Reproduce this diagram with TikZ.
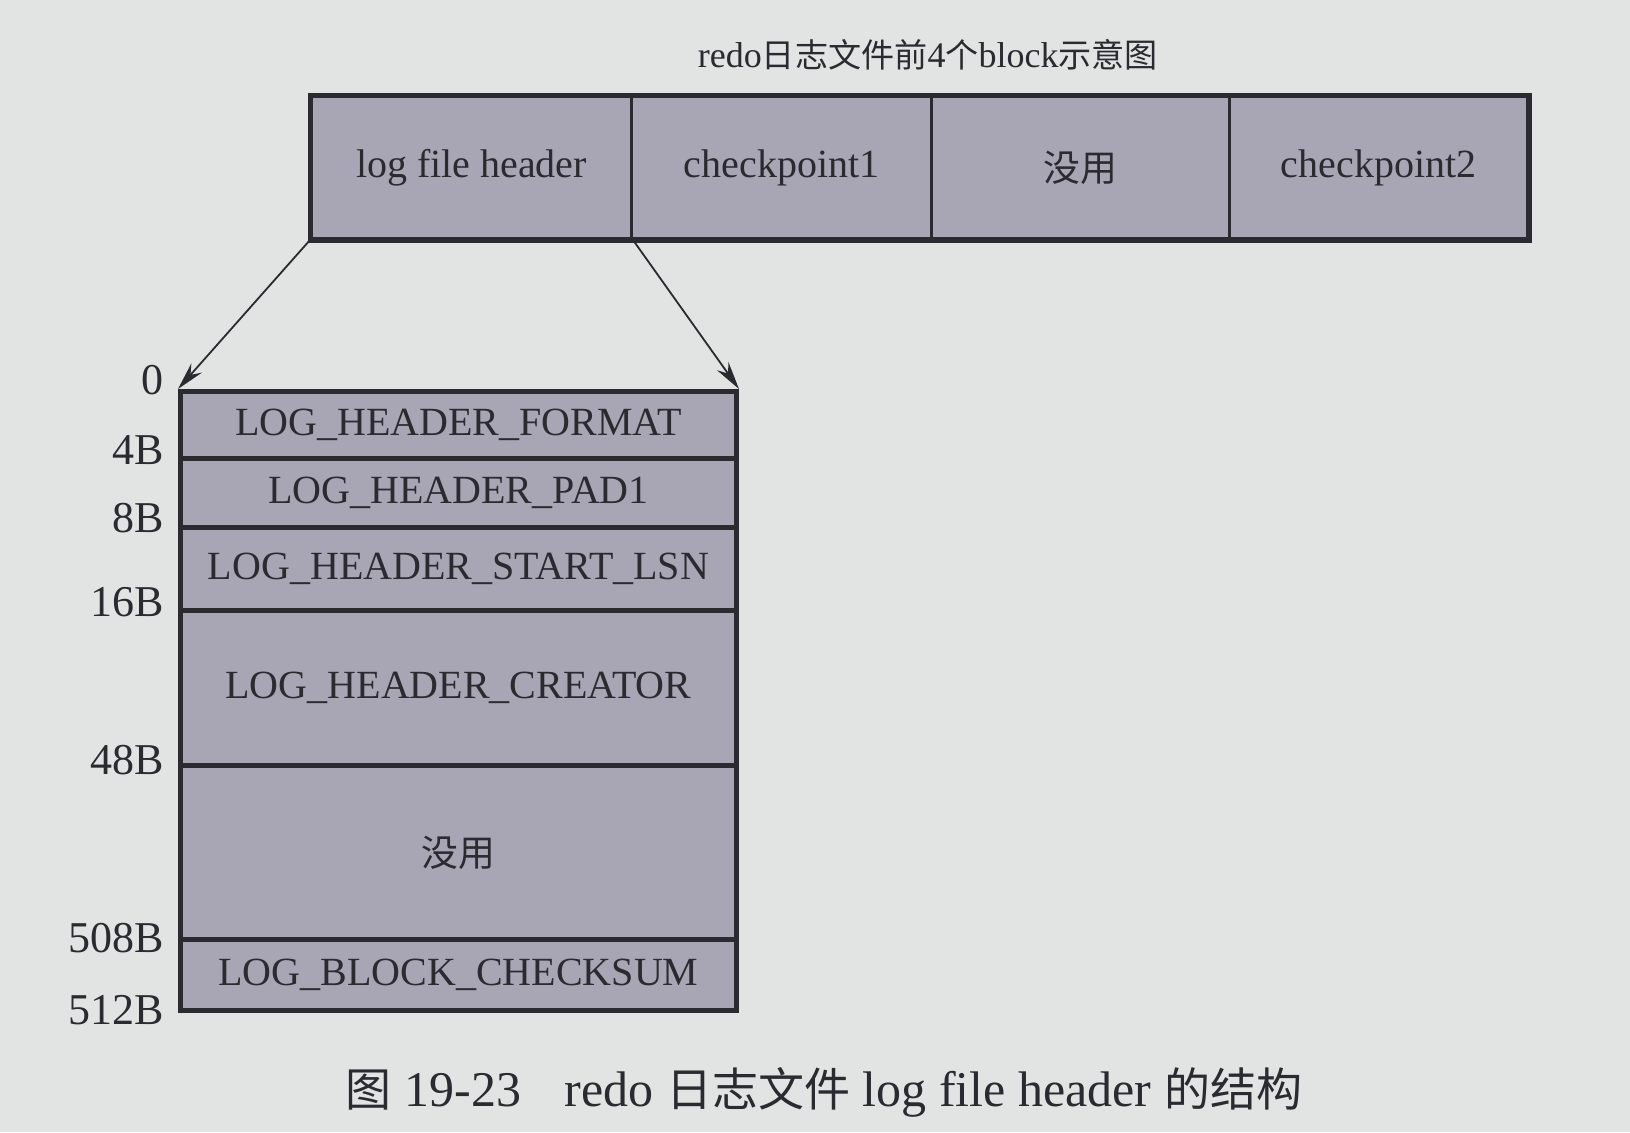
\documentclass[tikz,border=0pt]{standalone}
\usepackage{fontspec}
\setmainfont{Liberation Serif}
\newfontfamily\cjk{Noto Sans CJK SC}[Scale=0.92]
\usetikzlibrary{arrows.meta}
\definecolor{paper}{RGB}{226,228,227}
\definecolor{cellfill}{RGB}{168,166,180}
\definecolor{ink}{RGB}{42,42,48}

\begin{document}
\begin{tikzpicture}[x=0.5pt,y=-0.5pt,
  blockcell/.style={draw=ink, line width=1.5pt, fill=cellfill, inner sep=0pt,
    anchor=north west, minimum height=71pt, text=ink,
    font=\fontsize{20}{24}\selectfont},
  fieldrow/.style={draw=ink, line width=2.5pt, fill=cellfill, inner sep=0pt,
    anchor=north west, minimum width=278pt, text=ink,
    font=\fontsize{20}{24}\selectfont},
  offset/.style={anchor=east, inner sep=0pt, text=ink,
    font=\fontsize{22}{26}\selectfont},
  zoomarrow/.style={draw=ink, line width=0.9pt,
    -{Stealth[length=14pt,width=7pt]}},
  frame/.style={draw=ink, line width=2.5pt}]

% page
\fill[paper] (0,0) rectangle (1630,1132);
\useasboundingbox (0,0) rectangle (1630,1132);

% title of the block row
\node[text=ink, font=\fontsize{18}{22}\selectfont] (title) at (928,55)
  {redo{\cjk 日志文件前}4{\cjk 个}block{\cjk 示意图}};

% the first four blocks of the redo log file
\node[blockcell, minimum width=160pt] (hdr) at (310,95) {log file header};
\node[blockcell, minimum width=150pt] (cp1) at (630,95) {checkpoint1};
\node[blockcell, minimum width=149pt] (unused) at (930,95) {\cjk 没用};
\node[blockcell, minimum width=149pt] (cp2) at (1228,95) {checkpoint2};
\draw[frame] (hdr.north west) rectangle (cp2.south east);

% layout of the log file header block
\node[fieldrow, minimum height=33.5pt] (fmt) at (178,389) {LOG\_HEADER\_FORMAT};
\node[fieldrow, minimum height=34.5pt] (pad) at (178,456) {LOG\_HEADER\_PAD1};
\node[fieldrow, minimum height=41.5pt] (lsn) at (178,525) {LOG\_HEADER\_START\_LSN};
\node[fieldrow, minimum height=77.5pt] (creator) at (178,608) {LOG\_HEADER\_CREATOR};
\node[fieldrow, minimum height=87pt] (spare) at (178,763) {\cjk 没用};
\node[fieldrow, minimum height=35.5pt] (cksum) at (178,937) {LOG\_BLOCK\_CHECKSUM};

% byte offsets
\node[offset] (o0) at (164,380) {0};
\node[offset] (o4) at (164,450) {4B};
\node[offset] (o8) at (164,518) {8B};
\node[offset] (o16) at (164,602) {16B};
\node[offset] (o48) at (164,760) {48B};
\node[offset] (o508) at (164,938) {508B};
\node[offset] (o512) at (164,1010) {512B};

% zoom-in arrows
\draw[zoomarrow] (hdr.south west) -- (fmt.north west);
\draw[zoomarrow] (hdr.south east) -- (fmt.north east);

% figure caption
\node[text=ink, font=\fontsize{25}{30}\selectfont] (caption) at (824,1092)
  {{\cjk 图} 19-23\hspace{22pt}redo {\cjk 日志文件} log file header {\cjk 的结构}};
\end{tikzpicture}
\end{document}
